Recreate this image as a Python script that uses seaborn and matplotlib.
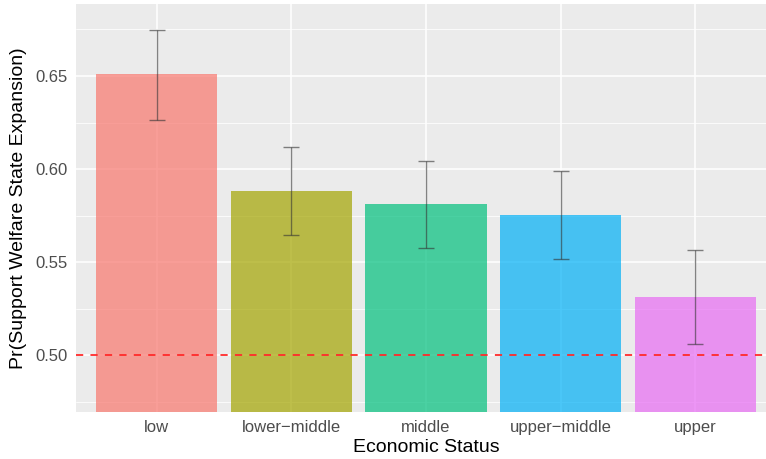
import matplotlib
matplotlib.use("Agg")
import matplotlib.pyplot as plt
import pandas as pd
import seaborn as sns
from matplotlib.ticker import MultipleLocator

# values
status = ["low", "lower\u2212middle", "middle", "upper\u2212middle", "upper"]
prob = [0.651, 0.588, 0.581, 0.5755, 0.531]
ci_low = [0.6265, 0.5645, 0.5575, 0.5518, 0.5058]
ci_high = [0.6747, 0.6118, 0.6042, 0.5990, 0.5565]
colors = ["#F8766D", "#A3A500", "#00BF7D", "#00B0F6", "#E76BF3"]

df = pd.DataFrame({"status": status, "prob": prob,
                   "lo": ci_low, "hi": ci_high})

sns.set_theme(style="darkgrid")
plt.rcParams["font.family"] = ["Liberation Sans", "DejaVu Sans"]

fig = plt.figure(figsize=(7.66, 4.59), dpi=100)
# panel is cropped on the right in the original picture
ax = fig.add_axes([76 / 766, 1 - 412 / 459, 700 / 766, 408 / 459])
ax.set_facecolor("#EBEBEB")

sns.barplot(data=df, x="status", y="prob", hue="status", palette=colors,
            width=0.9, alpha=0.7, saturation=1, legend=False, ax=ax,
            zorder=2, linewidth=0)

ax.errorbar(range(len(status)), df["prob"],
            yerr=[df["prob"] - df["lo"], df["hi"] - df["prob"]],
            fmt="none", ecolor="#333333", alpha=0.6, elinewidth=1,
            capsize=6, capthick=1, zorder=3)

ax.axhline(0.5, color="#FF2A2A", linestyle=(0, (4, 4)), linewidth=1.3,
           zorder=4)

ax.set_xlim(-0.6, 4.6)
ax.set_ylim(0.4694, 0.6887)
ax.yaxis.set_major_locator(MultipleLocator(0.05))
ax.yaxis.set_minor_locator(MultipleLocator(0.025))
ax.yaxis.set_major_formatter(matplotlib.ticker.FormatStrFormatter("%.2f"))
ax.grid(which="major", color="white", linewidth=1.1)
ax.grid(which="minor", axis="y", color="white", linewidth=0.55)
ax.set_axisbelow(True)
for s in ax.spines.values():
    s.set_visible(False)

ax.tick_params(axis="both", which="major", length=4, width=1,
               color="#333333", labelsize=12, labelcolor="#4D4D4D", pad=2)
ax.tick_params(axis="y", which="minor", length=0)
ax.set_xlabel("Economic Status", fontsize=14, color="black", labelpad=3)
ax.set_ylabel("Pr(Support Welfare State Expansion)", fontsize=14,
              color="black", labelpad=6)

fig.savefig("out.png", dpi=100)
